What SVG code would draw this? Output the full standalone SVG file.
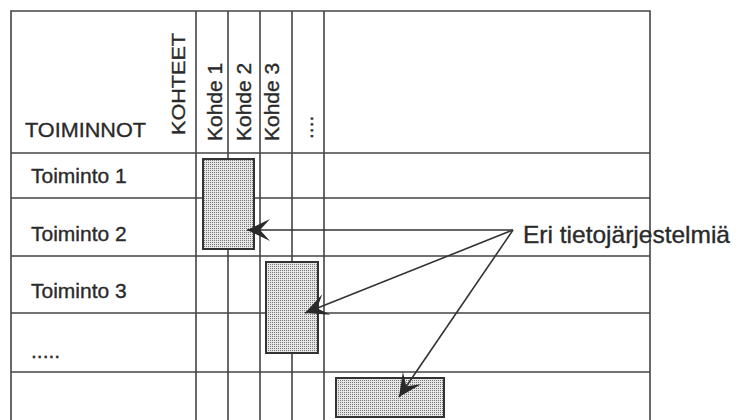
<svg xmlns="http://www.w3.org/2000/svg" width="738" height="420" viewBox="0 0 738 420">
<style>
.grid{stroke:#444;stroke-width:1.6;fill:none}
.t{font-family:"Liberation Sans",Arial,sans-serif;fill:#2a2a2a;stroke:#2a2a2a;stroke-width:0.35}
.box{fill:url(#dots);stroke:#333;stroke-width:2}
.arr{stroke:#333;stroke-width:1.6;fill:none;marker-end:url(#head)}
</style>
<defs>
<pattern id="dots" width="2" height="2" patternUnits="userSpaceOnUse">
<rect width="2" height="2" fill="#e6e6e6"/>
<rect width="1" height="1" fill="#777"/>
</pattern>
<marker id="head" viewBox="-24 -12 25 24" markerWidth="25" markerHeight="24" refX="0" refY="0" markerUnits="userSpaceOnUse" orient="auto">
<path d="M0,0 L-23,-11 L-13,0 L-23,11 Z" fill="#2a2a2a"/>
</marker>
</defs>
<g id="grid" class="grid">
<path d="M11,420 V11 H650 V420"/>
<path d="M196,11 V420 M228,11 V420 M260,11 V420 M292,11 V420 M324,11 V420"/>
<path d="M11,153 H650 M11,198 H650 M11,256 H650 M11,313 H650 M11,372 H650"/>
</g>
<g id="headers">
<text class="t" x="25" y="137" font-size="21" textLength="121" lengthAdjust="spacingAndGlyphs">TOIMINNOT</text>
<text class="t" font-size="19" transform="translate(185,135) rotate(-90)" textLength="102" lengthAdjust="spacingAndGlyphs">KOHTEET</text>
<text class="t" font-size="21" transform="translate(221.5,141) rotate(-90)">Kohde 1</text>
<text class="t" font-size="21" transform="translate(250.5,141) rotate(-90)">Kohde 2</text>
<text class="t" font-size="21" transform="translate(278.5,141) rotate(-90)">Kohde 3</text>
<text class="t" font-size="21" transform="translate(313,139) rotate(-90)">....</text>
</g>
<g id="rows">
<text class="t" x="31" y="183" font-size="21">Toiminto 1</text>
<text class="t" x="31" y="241" font-size="21">Toiminto 2</text>
<text class="t" x="31" y="298" font-size="21">Toiminto 3</text>
<text class="t" x="31" y="358" font-size="21">.....</text>
</g>
<g id="system1"><rect class="box" x="203" y="159" width="51" height="90"/></g>
<g id="system2"><rect class="box" x="266" y="262" width="52" height="91"/></g>
<g id="system3"><rect class="box" x="336" y="378" width="108" height="39"/></g>
<g id="label"><text class="t" x="523" y="243" font-size="24" textLength="207" lengthAdjust="spacingAndGlyphs">Eri tietojärjestelmiä</text></g>
<g id="connectors">
<line class="arr" x1="513" y1="230" x2="247" y2="230"/>
<line class="arr" x1="513" y1="230" x2="305" y2="313"/>
<line class="arr" x1="513" y1="230" x2="399" y2="397"/>
</g>
</svg>
